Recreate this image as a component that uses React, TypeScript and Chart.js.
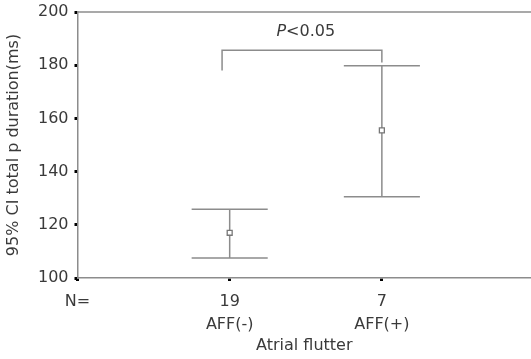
import React, { useEffect, useRef } from "react";
import { Chart, registerables } from "chart.js";

Chart.register(...registerables);

const categories = ["AFF(-)", "AFF(+)"];
const counts = ["19", "7"];
const categoryX = [1, 2];
const means = [117, 155.5];
const lowerCI = [107.5, 130.5];
const upperCI = [125.8, 179.8];
const capHalfWidth = 0.25;
const xRange = [0, 2.98];
const yTicks = [100, 120, 140, 160, 180, 200];
const bracketX = [0.95, 0.95, 2, 2];
const bracketY = [178, 185.6, 185.6, 181];
const pLabelPos = { x: 1.5, y: 192.5 };

const LINE = "#8c8c8c";
const TEXT = "#3a3a3a";
const FONT = "'DejaVu Sans', sans-serif";

export default function App() {
  const ref = useRef<HTMLCanvasElement | null>(null);

  useEffect(() => {
    document.body.style.margin = "0";
    const canvas = ref.current;
    if (!canvas) return;

    const overlay = {
      id: "overlay",
      beforeDatasetsDraw(chart: any) {
        const { ctx, chartArea, scales } = chart;
        const xs = scales.x;
        const ys = scales.y;
        ctx.save();
        // top frame line
        ctx.strokeStyle = LINE;
        ctx.lineWidth = 1.5;
        ctx.beginPath();
        ctx.moveTo(chartArea.left, chartArea.top);
        ctx.lineTo(chartArea.right, chartArea.top);
        ctx.stroke();
        // error bars
        ctx.lineWidth = 1.5;
        for (let i = 0; i < categoryX.length; i++) {
          const cx = xs.getPixelForValue(categoryX[i]);
          const xl = xs.getPixelForValue(categoryX[i] - capHalfWidth);
          const xr = xs.getPixelForValue(categoryX[i] + capHalfWidth);
          const yl = ys.getPixelForValue(lowerCI[i]);
          const yu = ys.getPixelForValue(upperCI[i]);
          ctx.beginPath();
          ctx.moveTo(cx, yl);
          ctx.lineTo(cx, yu);
          ctx.moveTo(xl, yl);
          ctx.lineTo(xr, yl);
          ctx.moveTo(xl, yu);
          ctx.lineTo(xr, yu);
          ctx.stroke();
        }
        // significance bracket
        ctx.beginPath();
        for (let i = 0; i < bracketX.length; i++) {
          const px = xs.getPixelForValue(bracketX[i]);
          const py = ys.getPixelForValue(bracketY[i]);
          if (i === 0) ctx.moveTo(px, py);
          else ctx.lineTo(px, py);
        }
        ctx.stroke();
        // P<0.05 label
        const lx = xs.getPixelForValue(pLabelPos.x);
        const ly = ys.getPixelForValue(pLabelPos.y);
        ctx.fillStyle = TEXT;
        ctx.textBaseline = "middle";
        ctx.font = "italic 16px " + FONT;
        const pW = ctx.measureText("P").width;
        ctx.font = "16px " + FONT;
        const restW = ctx.measureText("<0.05").width;
        const start = lx - (pW + restW) / 2;
        ctx.textAlign = "left";
        ctx.font = "italic 16px " + FONT;
        ctx.fillText("P", start, ly);
        ctx.font = "16px " + FONT;
        ctx.fillText("<0.05", start + pW, ly);
        ctx.restore();
      },
    };

    const chart = new Chart(canvas, {
      type: "scatter",
      data: {
        datasets: [
          {
            data: categoryX.map((x, i) => ({ x, y: means[i] })),
            pointStyle: "rect",
            pointRadius: 3.5,
            pointBorderWidth: 1.3,
            pointBorderColor: "#777",
            pointBackgroundColor: "#ffffff",
            showLine: false,
          },
        ],
      },
      options: {
        responsive: false,
        animation: false,
        layout: { autoPadding: false, padding: { top: 12, right: 0, left: 0, bottom: 0 } },
        plugins: { legend: { display: false }, tooltip: { enabled: false } },
        scales: {
          x: {
            type: "linear",
            min: xRange[0],
            max: xRange[1],
            afterBuildTicks: (scale: any) => {
              scale.ticks = [0, ...categoryX].map((v) => ({ value: v }));
            },
            afterFit: (scale: any) => {
              scale.height = 81;
              scale.paddingLeft = 0;
              scale.paddingRight = 0;
            },
            ticks: {
              autoSkip: false,
              maxRotation: 0,
              minRotation: 0,
              padding: 9,
              color: TEXT,
              font: { family: FONT, size: 16, lineHeight: 1.45 },
              callback: (v: any) => {
                if (v === 0) return "N=";
                const i = categoryX.indexOf(v);
                return i >= 0 ? [counts[i], categories[i]] : "";
              },
            },
            grid: {
              drawOnChartArea: false,
              drawTicks: true,
              tickLength: 3,
              tickWidth: 3,
              tickColor: "#000",
            },
            border: { display: true, color: LINE, width: 1.5 },
            title: {
              display: true,
              text: "Atrial flutter",
              color: TEXT,
              font: { family: FONT, size: 16 },
              padding: { top: 0, bottom: 4 },
            },
          },
          y: {
            min: 100,
            max: 200,
            afterBuildTicks: (scale: any) => {
              scale.ticks = yTicks.map((v) => ({ value: v }));
            },
            afterFit: (scale: any) => {
              scale.width = 77.5;
              scale.paddingTop = 0;
              scale.paddingBottom = 0;
            },
            ticks: {
              padding: 6,
              color: TEXT,
              font: { family: FONT, size: 16 },
            },
            grid: {
              drawOnChartArea: false,
              drawTicks: true,
              tickLength: 3,
              tickWidth: 3,
              tickColor: "#000",
            },
            border: { display: true, color: LINE, width: 1.5 },
            title: {
              display: true,
              text: "95% CI total p duration(ms)",
              color: TEXT,
              font: { family: FONT, size: 16 },
              padding: { top: 4, bottom: 0 },
            },
          },
        },
      },
      plugins: [overlay],
    } as any);

    return () => chart.destroy();
  }, []);

  return (
    <div style={{ position: "fixed", left: 0, top: 0, width: 531, height: 359 }}>
      <canvas ref={ref} width={531} height={359} />
    </div>
  );
}
